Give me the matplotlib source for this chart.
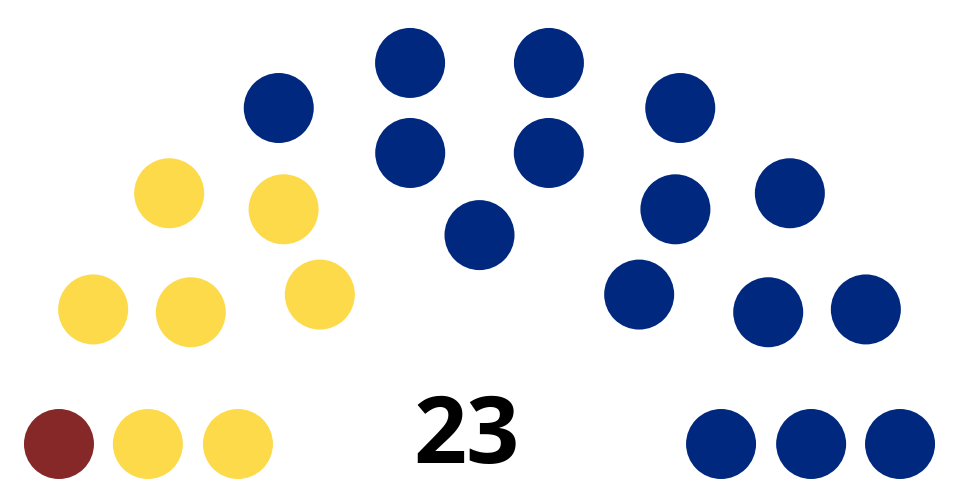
import numpy as np
import matplotlib.pyplot as plt
from matplotlib.patches import Circle

# parties, left to right
party_seats = [1, 7, 15]
party_colors = ['#862828', '#FDDA4A', '#00287F']
total_label = '23'

# seats per row, outer row first
row_seats = [10, 8, 5]
row_radii = [422, 333.5, 244.1]
seat_radius = 35
center = (479.5, 479.2)
baseline_lift = 35.2

# place seats on arcs, then sort by angle from the left
seats = []
for n, r in zip(row_seats, row_radii):
    a0 = np.arcsin(baseline_lift / r)
    angles = np.linspace(np.pi - a0, a0, n)
    for a in angles:
        seats.append((np.pi - a, center[0] + r * np.cos(a), center[1] - r * np.sin(a)))
seats.sort(key=lambda s: s[0])

colors = []
for count, c in zip(party_seats, party_colors):
    colors += [c] * count

fig = plt.figure(figsize=(9.6, 4.94), dpi=100)
ax = fig.add_axes([0, 0, 1, 1])
ax.set_xlim(0, 960)
ax.set_ylim(494, 0)
ax.set_aspect('equal')
ax.axis('off')

for (a, x, y), c in zip(seats, colors):
    ax.add_patch(Circle((x, y), seat_radius, color=c, lw=0))

ax.text(467, 438, total_label, ha='center', va='center', fontsize=67,
        fontweight='bold', family=['Open Sans', 'DejaVu Sans'], color='black')

fig.savefig('out.png', dpi=100)
